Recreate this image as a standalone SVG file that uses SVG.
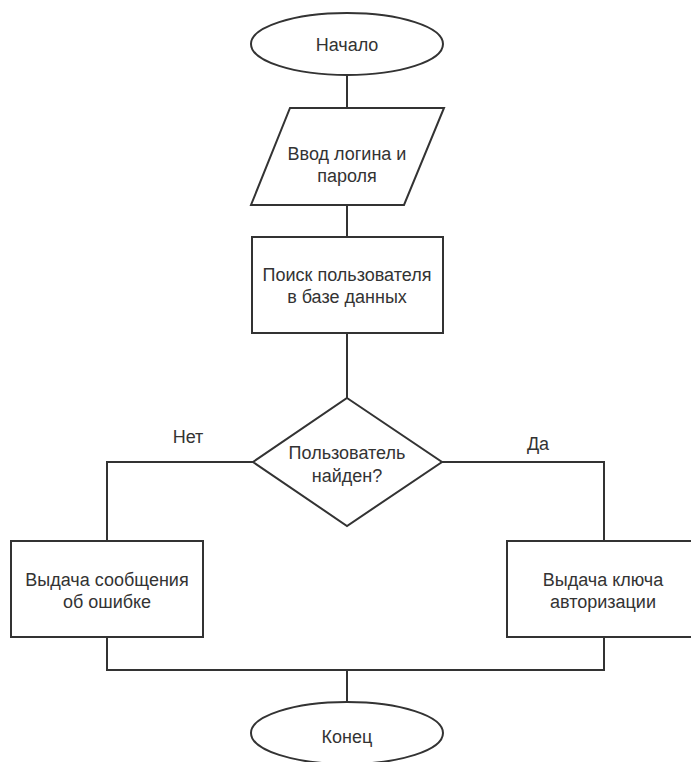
<svg xmlns="http://www.w3.org/2000/svg" width="691" height="762" viewBox="0 0 691 762">
<style>
.s{fill:#ffffff;stroke:#333333;stroke-width:2}
.c{fill:none;stroke:#333333;stroke-width:2}
text{font-family:"Liberation Sans",Arial,sans-serif;font-size:18px;fill:#333333;text-anchor:middle}
</style>
<rect width="691" height="762" fill="#ffffff"/>
<g id="connectors">
<path class="c" d="M347 75 V108"/>
<path class="c" d="M347 205 V237"/>
<path class="c" d="M347 333 V398"/>
<path class="c" d="M253 462 H107 V541"/>
<path class="c" d="M442 462 H604 V541"/>
<path class="c" d="M107 637 V670 H604 V637"/>
<path class="c" d="M347 670 V702"/>
</g>
<g id="label-net"><text x="188" y="443">Нет</text></g>
<g id="label-da"><text x="538" y="450">Да</text></g>
<g id="start">
<ellipse class="s" cx="347" cy="44" rx="96" ry="31"/>
<text x="347" y="51">Начало</text>
</g>
<g id="input">
<polygon class="s" points="290,108 444,108 404,205 251,205"/>
<text x="347" y="160">Ввод логина и</text>
<text x="347" y="182">пароля</text>
</g>
<g id="search">
<rect class="s" x="252" y="237" width="191" height="96"/>
<text x="347" y="281">Поиск пользователя</text>
<text x="347" y="303">в базе данных</text>
</g>
<g id="decision">
<polygon class="s" points="347,398 442,462 347,526 253,462"/>
<text x="347" y="459">Пользователь</text>
<text x="347" y="482">найден?</text>
</g>
<g id="error">
<rect class="s" x="11" y="541" width="192" height="96"/>
<text x="107" y="586">Выдача сообщения</text>
<text x="107" y="608">об ошибке</text>
</g>
<g id="auth">
<rect class="s" x="507" y="541" width="194" height="96"/>
<text x="603" y="586">Выдача ключа</text>
<text x="603" y="608">авторизации</text>
</g>
<g id="end">
<ellipse class="s" cx="347" cy="733" rx="96" ry="31"/>
<text x="347" y="743">Конец</text>
</g>
</svg>
